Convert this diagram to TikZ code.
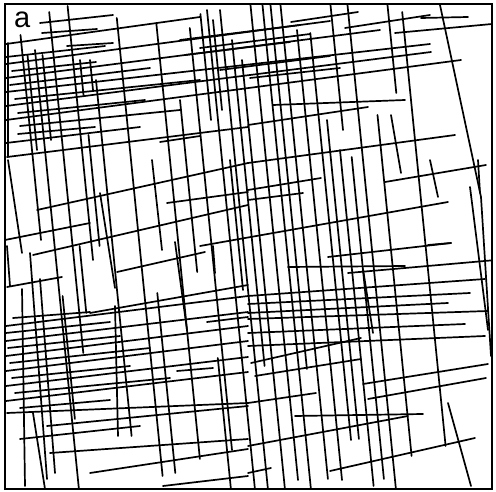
\documentclass[tikz,border=0pt]{standalone}
\usepackage{fontspec}
\newfontfamily\labfont{Liberation Sans}
\begin{document}
\begin{tikzpicture}[x=1pt,y=-1pt,
  frac/.style={line width=1.7pt,line cap=round,black},
  frame/.style={line width=2.4pt,black}]
\useasboundingbox (0,0) rectangle (496,492);
\fill[white] (0,0) rectangle (496,492);
\begin{scope}
\clip (5,4) rectangle (492,489);
% near-horizontal fractures
\foreach \a/\b/\c/\d in {
40/23/113/15, 42/33/97/29, 6/44/200/17, 67/46/113/43,
291/22/358/12, 345/28/430/15, 421/18/468/17, 395/33/492/24,
6/57/105/46, 6/64/330/21, 12/71/96/62, 6/78/380/30, 10/85/150/68,
6/92/430/44, 15/99/200/80, 6/106/431/52, 18/113/145/100, 6/120/461/60,
20/126/180/110, 18/134/95/127, 6/143/140/127,
180/40/300/25, 200/48/310/34, 185/55/290/42, 220/70/330/56, 250/78/340/68,
273/105/405/100, 248/125/368/107,
7/157/248/127, 160/142/200/136, 248/163/455/135, 37/210/248/163,
167/203/248/192, 385/182/486/165, 5/240/90/223, 33/255/248/205,
248/190/321/178, 248/200/303/193, 200/246/448/202, 428/245/451/243,
117/272/205/252, 7/287/62/277, 13/318/90/312, 90/313/248/285, 207/322/248/317,
288/267/405/266, 328/257/451/243, 348/273/496/260, 177/371/213/368,
6/326/248/296, 6/333/110/322, 6/341/248/312, 8/348/120/336,
6/356/248/326, 10/363/150/348, 6/371/248/341, 12/378/130/366, 6/386/248/357,
15/393/170/378, 6/401/248/372, 20/408/110/400,
248/296/485/279, 248/304/470/293, 248/313/448/303, 248/319/488/311,
248/333/465/324, 248/346/485/336, 251/363/361/338, 255/376/361/359,
363/384/488/364, 368/399/486/378, 248/403/316/393, 295/416/423/414,
248/446/408/416, 330/471/475/438, 248/473/271/468,
7/413/248/403, 47/426/248/406, 20/439/140/426, 50/453/248/439,
90/473/248/449, 163/486/248/476}
  \draw[frac] (\a,\b) -- (\c,\d);
% near-vertical fractures, x = x0 + 0.1 y
\foreach \a/\b/\c in {
17/35/240, 22/55/150, 30/50/491, 37/55/140, 33/296/419, 48/12/353, 55/246/313,
67/6/260, 75/135/246, 74/60/95, 84/60/90, 88/80/436, 115/18/476, 128/293/473,
154/23/459, 170/100/272, 182/358/489, 187/28/450, 199/14/120, 206/10/490,
211/20/110, 219/10/490, 228/40/366, 236/60/489, 250/4/480, 262/5/490,
270/5/369, 280/5/479, 294/30/480, 307/33/440, 315/120/439, 325/150/486,
330/5/130, 336/157/479, 347/5/490, 366/115/456, 387/5/93, 401/12/446}
  \draw[frac] ({\a+0.1*\b},\b) -- ({\a+0.1*\c},\c);
\foreach \a/\b/\c/\d in {
8/43/8/157, 8/160/22/253, 7/246/10/286, 22/289/25/486, 33/413/45/489,
30/253/47/479, 40/279/55/473, 470/187/488/330, 430/160/438/197,
478/160/480/193, 391/115/401/173, 100/193/115/288, 175/242/187/330,
152/160/162/250, 230/160/243/290, 115/306/118/436, 213/246/215/273,
363/269/373/333, 448/403/471/486}
  \draw[frac] (\a,\b) -- (\c,\d);
\draw[frac] (440,5) -- (481,197) -- (491,356);
\end{scope}
\fill[white] (12,9) rectangle (36,32);
\node[font=\labfont\fontsize{29}{29}\selectfont,inner sep=0pt,anchor=base west] (lab) at (14,28) {a};
\draw[frame] (5,4) rectangle (492,489);
\end{tikzpicture}
\end{document}
